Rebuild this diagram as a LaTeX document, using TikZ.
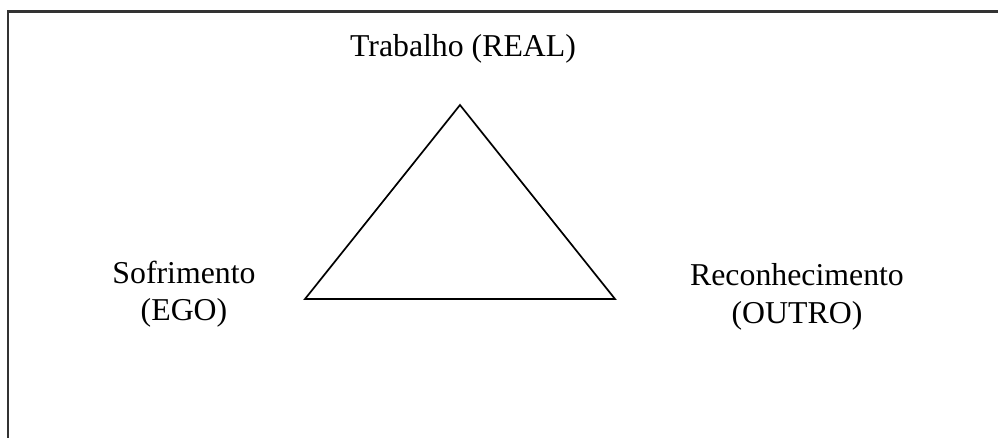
\documentclass[tikz,border=0pt]{standalone}
\usepackage{fontspec}
\setmainfont{Liberation Serif}
\begin{document}
\begin{tikzpicture}[x=1pt,y=-1pt,
  label/.style={font=\fontsize{31.8}{37}\selectfont, inner sep=0pt, align=center},
  edge/.style={line width=1.7pt, line join=miter}]
\useasboundingbox (0,0) rectangle (998,438);
\clip (0,0) rectangle (998,438);
% open frame around the figure
\draw[line width=2.6pt, black!80] (8,460) -- (8,11.5) -- (1010,11.5);
% vertices of the triangle
\coordinate (top) at (460,105);
\coordinate (left) at (305,299);
\coordinate (right) at (615,299);
\draw[edge] (top) -- (left) -- (right) -- cycle;
% labels at the vertices (base = baseline of the last line)
\node[label, anchor=base] (real) at (463,57) {Trabalho (REAL)};
\node[label, anchor=base] (ego) at (184,320) {Sofrimento\\(EGO)};
\node[label, anchor=base] (outro) at (797,323) {Reconhecimento\\(OUTRO)};
\end{tikzpicture}
\end{document}
